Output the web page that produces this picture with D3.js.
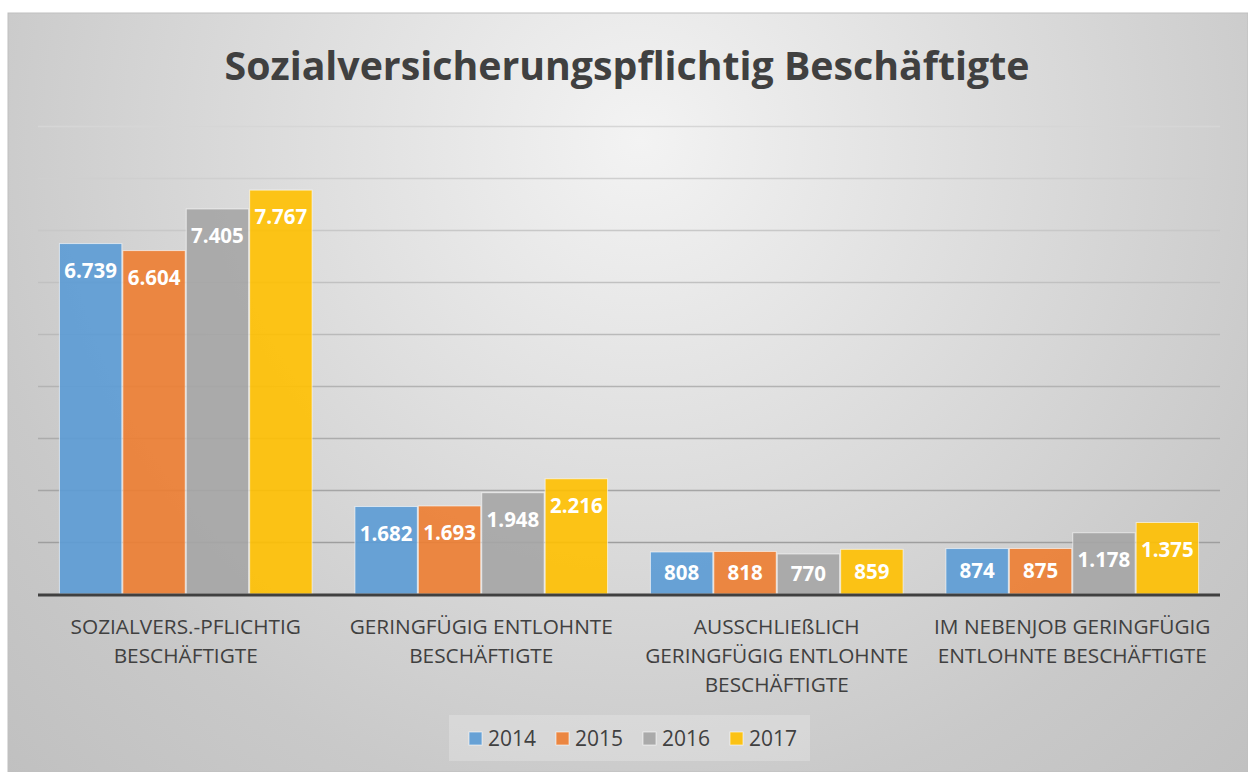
<!DOCTYPE html>
<html lang="de">
<head>
<meta charset="utf-8">
<title>Sozialversicherungspflichtig Beschäftigte</title>
<script src="https://cdn.jsdelivr.net/npm/d3@7"></script>
<style>
  body { margin: 0; background: #fff; }
  svg text { font-family: "Open Sans", sans-serif; }
</style>
</head>
<body>
<script>
// data
var categories = [
  "Sozialvers.-pflichtig Beschäftigte",
  "Geringfügig entlohnte Beschäftigte",
  "Ausschließlich geringfügig entlohnte Beschäftigte",
  "Im Nebenjob geringfügig entlohnte Beschäftigte"
];
var categoryLines = [
  ["SOZIALVERS.-PFLICHTIG", "BESCHÄFTIGTE"],
  ["GERINGFÜGIG ENTLOHNTE", "BESCHÄFTIGTE"],
  ["AUSSCHLIEßLICH", "GERINGFÜGIG ENTLOHNTE", "BESCHÄFTIGTE"],
  ["IM NEBENJOB GERINGFÜGIG", "ENTLOHNTE BESCHÄFTIGTE"]
];
var years = ["2014", "2015", "2016", "2017"];
var v2014 = [6739, 1682, 808, 874];
var v2015 = [6604, 1693, 818, 875];
var v2016 = [7405, 1948, 770, 1178];
var v2017 = [7767, 2216, 859, 1375];
var yTicks = [0, 1000, 2000, 3000, 4000, 5000, 6000, 7000, 8000, 9000];
var colors = ["#5b9bd5", "#ed7d31", "#a5a5a5", "#ffc000"];

var series = [v2014, v2015, v2016, v2017];

var W = 1248, H = 772;
var de = d3.formatLocale({decimal: ",", thousands: ".", grouping: [3], currency: ["", " €"]});
var fmt = de.format(",d");

var svg = d3.select("body").append("svg")
  .attr("width", W).attr("height", H);

var defs = svg.append("defs");
var bg = defs.append("radialGradient")
  .attr("id", "bg")
  .attr("gradientUnits", "userSpaceOnUse")
  .attr("cx", 640).attr("cy", 140).attr("r", 900);
bg.append("stop").attr("offset", "0").attr("stop-color", "#f3f3f3");
bg.append("stop").attr("offset", "0.75").attr("stop-color", "#c9c9c9");
bg.append("stop").attr("offset", "1").attr("stop-color", "#c0c0c0");

// chart background
svg.append("rect")
  .attr("x", 8).attr("y", 13)
  .attr("width", W - 8).attr("height", H - 13)
  .attr("fill", "url(#bg)")
  .attr("stroke", "#bfbfbf")
  .attr("stroke-width", 1);

var plotL = 38, plotR = 1220, plotB = 594;

var x0 = d3.scaleBand()
  .domain(categories)
  .range([plotL, plotR])
  .paddingInner(0).paddingOuter(0);

var x1 = d3.scaleBand()
  .domain(years)
  .range([0, x0.bandwidth()])
  .paddingOuter(0.33).paddingInner(0);

var y = d3.scaleLinear()
  .domain([0, 9000])
  .range([plotB, 126]);

// gridlines
var yGrid = d3.axisLeft(y)
  .tickValues(yTicks.slice(1))
  .tickSize(-(plotR - plotL))
  .tickFormat("");
svg.append("g")
  .attr("class", "grid")
  .attr("transform", "translate(" + plotL + ",0)")
  .call(yGrid)
  .call(function(g) { g.select(".domain").remove(); })
  .selectAll("line")
  .attr("stroke-width", 1.3)
  .attr("stroke", function(d) {
    return d3.interpolateRgb("#d6d6d6", "#9e9e9e")((9000 - d) / 8000);
  });

// bars
var groups = svg.append("g").selectAll("g")
  .data(categories)
  .join("g")
  .attr("transform", function(d) { return "translate(" + x0(d) + ",0)"; });

var barData = function(c, ci) {
  return years.map(function(yr, si) {
    return {year: yr, si: si, value: series[si][ci]};
  });
};

groups.selectAll("rect")
  .data(barData)
  .join("rect")
  .attr("x", function(d) { return x1(d.year) + 0.5; })
  .attr("y", function(d) { return y(d.value); })
  .attr("width", x1.bandwidth() - 1)
  .attr("height", function(d) { return plotB - y(d.value); })
  .attr("fill", function(d) { return colors[d.si]; })
  .attr("fill-opacity", 0.9)
  .attr("stroke", "#ffffff")
  .attr("stroke-opacity", 0.6)
  .attr("stroke-width", 1);

groups.selectAll("text.val")
  .data(barData)
  .join("text")
  .attr("class", "val")
  .attr("x", function(d) { return x1(d.year) + x1.bandwidth() / 2; })
  .attr("y", function(d) {
    var top = y(d.value);
    return Math.min(top + 27, (top + plotB) / 2) + 7;
  })
  .attr("text-anchor", "middle")
  .attr("fill", "#ffffff")
  .attr("font-weight", 700)
  .attr("font-size", 20.5)
  .text(function(d) { return fmt(d.value); });

// x axis line
svg.append("line")
  .attr("x1", plotL).attr("x2", plotR)
  .attr("y1", plotB + 1).attr("y2", plotB + 1)
  .attr("stroke", "#404040")
  .attr("stroke-width", 3);

// category labels
var catG = svg.append("g").selectAll("text")
  .data(categories)
  .join("text")
  .attr("text-anchor", "middle")
  .attr("fill", "#404040")
  .attr("font-size", 20.8);
catG.selectAll("tspan")
  .data(function(d, i) { return categoryLines[i]; })
  .join("tspan")
  .attr("x", function() { return x0(d3.select(this.parentNode).datum()) + x0.bandwidth() / 2; })
  .attr("y", function(d, i) { return 634 + i * 29; })
  .text(function(d) { return d; });

// title
var title = svg.append("text")
  .attr("x", 627)
  .attr("y", 80)
  .attr("text-anchor", "middle")
  .attr("fill", "#404040")
  .attr("font-weight", 700)
  .attr("font-size", 40)
  .text("Sozialversicherungspflichtig Beschäftigte");
var tw = title.node().getComputedTextLength();
title.attr("font-size", 40 * 805 / tw);

// legend
var legend = svg.append("g");
legend.append("rect")
  .attr("x", 449).attr("y", 715)
  .attr("width", 361).attr("height", 46)
  .attr("fill", "#ffffff").attr("fill-opacity", 0.22);
var li = legend.selectAll("g.item")
  .data(years)
  .join("g")
  .attr("class", "item")
  .attr("transform", function(d, i) { return "translate(" + (469 + i * 87) + ",732)"; });
li.append("rect")
  .attr("width", 13).attr("height", 13)
  .attr("fill", function(d, i) { return colors[i]; })
  .attr("fill-opacity", 0.9)
  .attr("stroke", "#ffffff").attr("stroke-opacity", 0.6);
li.append("text")
  .attr("x", 19).attr("y", 13.5)
  .attr("fill", "#404040")
  .attr("font-size", 21)
  .text(function(d) { return d; });
</script>
</body>
</html>
